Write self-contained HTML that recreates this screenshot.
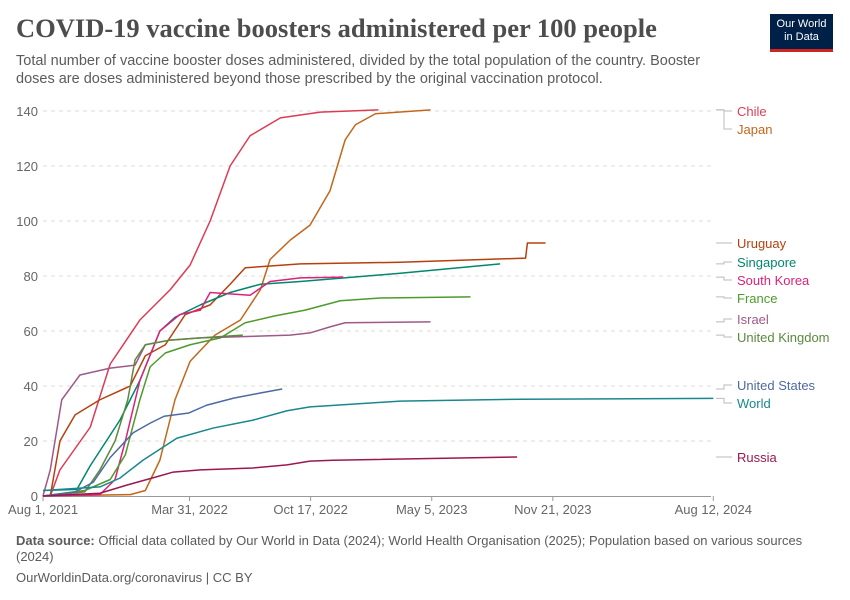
<!DOCTYPE html>
<html><head><meta charset="utf-8">
<style>
body{margin:0;background:#fff;width:850px;height:600px;overflow:hidden;font-family:"Liberation Sans",sans-serif;position:relative}
.t{position:absolute;left:16px;top:13px;font-family:"Liberation Serif",serif;font-weight:bold;font-size:26.5px;color:#4d4d4d;margin:0}
.sub{position:absolute;left:16px;top:52px;width:720px;font-size:14.5px;line-height:18px;color:#5b5b5b}
.logo{position:absolute;left:770px;top:14px;width:63px;height:38px;background:#002147;border-bottom:3px solid #ce261e;color:#fff;font-size:11px;line-height:13px;text-align:center;padding-top:4px;box-sizing:border-box}
.foot{position:absolute;left:16px;font-size:13px;color:#5b5b5b}
</style></head><body>
<h1 class="t">COVID-19 vaccine boosters administered per 100 people</h1>
<div class="sub">Total number of vaccine booster doses administered, divided by the total population of the country. Booster doses are doses administered beyond those prescribed by the original vaccination protocol.</div>
<div class="logo">Our World<br>in Data</div>
<svg id="c" width="850" height="600" style="position:absolute;left:0;top:0"></svg>
<div class="foot" style="top:533px;line-height:16px;width:800px"><b>Data source:</b> Official data collated by Our World in Data (2024); World Health Organisation (2025); Population based on various sources (2024)</div>
<div class="foot" style="top:570px">OurWorldinData.org/coronavirus | CC BY</div>
<script>
const yTicks=[0,20,40,60,80,100,120,140];
const xTickDays=[0,242,442,642,842,1107];
const xTickLabels=["Aug 1, 2021","Mar 31, 2022","Oct 17, 2022","May 5, 2023","Nov 21, 2023","Aug 12, 2024"];
const names=["Chile","Japan","Uruguay","Singapore","South Korea","France","Israel","United Kingdom","United States","World","Russia"];
const colors=["#dd3b53","#c3661a","#b5400f","#00876d","#d8237a","#4f9a2c","#9e5988","#5a8a3c","#4c6aa0","#18878f","#9a1852"];
const labelY=[111,129,243,262,280,298,319,337,385,403,457];
const chile=[[12,0],[28,9.5],[78,25],[111,48],[160,64],[210,75],[243,84],[276,100],[309,120],[342,131],[392,137.5],[458,139.6],[554,140.4]];
const japan=[[0,0],[144,0.5],[169,2],[193,13],[218,35],[243,49],[284,58.5],[326,64],[359,75],[375,86],[408,93],[441,98.5],[474,111],[499,129.5],[516,135],[549,139],[640,140.4]];
const uruguay=[[12,0],[28,20],[53,29.5],[94,35],[144,40],[169,51],[202,55],[235,66],[276,69.5],[309,77],[334,83],[425,84.4],[590,85],[797,86.5],[800,92],[830,92]];
const singapore=[[0,2],[56,2.4],[78,11],[127,27.6],[160,42],[193,60],[218,65],[260,69.5],[309,74],[359,77],[425,78],[590,81],[755,84.4]];
const southKorea=[[0,0],[94,0.5],[119,6],[136,20],[160,42],[193,60],[226,66],[260,67.6],[276,74],[342,73],[375,78],[425,79.3],[496,79.6]];
const france=[[0,0],[69,2],[111,6],[136,15],[160,35],[177,47],[202,52],[243,55],[293,57.5],[334,63],[383,65.5],[433,67.6],[491,71],[557,72],[706,72.4]];
const israel=[[0,0],[12,9.5],[31,35],[61,44],[111,46.5],[152,47.6],[169,55],[210,56.7],[260,57.5],[408,58.5],[441,59.3],[474,61.5],[499,63],[640,63.3]];
const uk=[[0,0],[69,1.5],[94,9.5],[119,20],[140,35],[152,49.5],[169,55],[210,56.7],[260,57.5],[330,58.5]];
const us=[[0,0],[53,1.5],[83,5],[111,14],[149,23],[177,26.5],[200,29],[241,30.2],[270,33],[315,35.6],[360,37.5],[395,38.9]];
const world=[[0,2],[94,3.3],[127,6.5],[165,13],[221,21],[281,24.7],[347,27.6],[403,31],[441,32.4],[590,34.5],[790,35.2],[1107,35.5]];
const russia=[[0,0],[94,1],[139,4],[188,7],[215,8.7],[260,9.5],[347,10.2],[403,11.3],[441,12.7],[479,13],[783,14.2]];
const series=[chile,japan,uruguay,singapore,southKorea,france,israel,uk,us,world,russia];
const X=d=>43+d*0.6055, Y=v=>496-v*2.75;
const svg=document.getElementById('c');const NS='http://www.w3.org/2000/svg';
function mk(t,a){const e=document.createElementNS(NS,t);for(const k in a)e.setAttribute(k,a[k]);svg.appendChild(e);return e;}
yTicks.forEach(v=>{
 if(v>0){const l=mk('line',{x1:43,x2:711,y1:Y(v),y2:Y(v),stroke:'#ddd','stroke-dasharray':'4 4'});
 
 }
 const t=mk('text',{x:38,y:Y(v)+5,'text-anchor':'end','font-size':13,fill:'#666'});t.textContent=v;
 
 
});
const ax=mk('line',{x1:43,x2:711,y1:496.5,y2:496.5,stroke:'#999'});


xTickDays.forEach((d,i)=>{
 const tk=mk('line',{x1:X(d),x2:X(d),y1:496,y2:501,stroke:'#999'});
 
 
 const t=mk('text',{x:X(d),y:514,'text-anchor':'middle','font-size':13,fill:'#666'});t.textContent=xTickLabels[i];
 
 
});
series.forEach((s,i)=>{
 const p=mk('polyline',{points:s.map(q=>X(q[0])+','+Y(q[1])).join(' '),fill:'none',stroke:colors[i],'stroke-width':1.5,'stroke-linejoin':'round'});
 
 
 const last=s[s.length-1];
 const ly=labelY[i];
 const c=mk('path',{d:`M716 ${Y(last[1])} H724 V${ly} H732`,fill:'none',stroke:'#bbb'});
 
 
 const t=mk('text',{x:737,y:ly+5,'font-size':13,fill:colors[i]});t.textContent=names[i];
 
 
});
</script>
</body></html>
